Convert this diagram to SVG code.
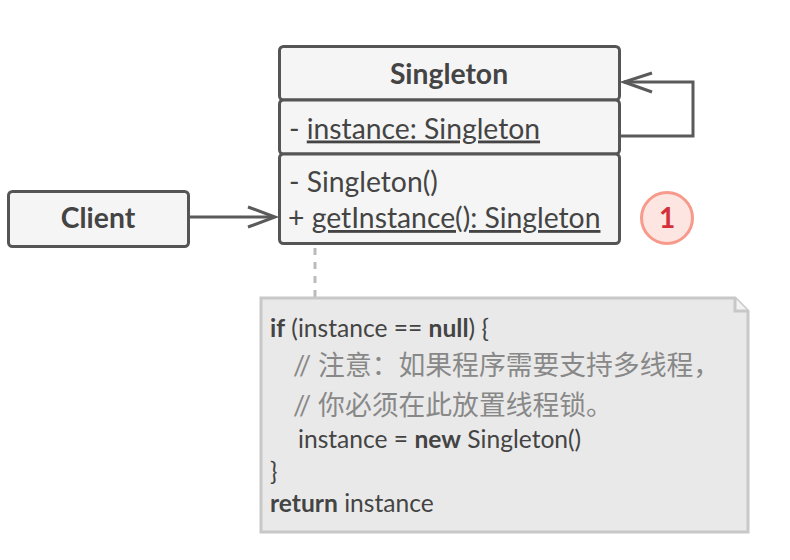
<svg xmlns="http://www.w3.org/2000/svg" width="790" height="560" viewBox="0 0 790 560">
<style>
.box{fill:#f5f5f5;stroke:#555;stroke-width:3}
.t{font-family:Lato,"Noto Sans CJK SC",sans-serif;fill:#444;font-size:28.3px}
.b{font-weight:bold}
.u{text-decoration:underline}
.n{font-family:Lato,"Noto Sans CJK SC",sans-serif;fill:#444;font-size:24.6px}
.c{font-family:Lato,"Noto Sans CJK SC",sans-serif;fill:#888;font-size:26.8px}
.conn{fill:none;stroke:#5a5a5a;stroke-width:3;stroke-linejoin:miter}
</style>
<rect width="790" height="560" fill="#fff"/>
<g id="connectors">
<path class="conn" d="M190 217H274"/>
<polyline class="conn" points="248,207 275,217 248,227"/>
<polyline class="conn" points="621,136 693,136 693,82 624,82"/>
<polyline class="conn" points="652,73 624,82 652,92"/>
<path d="M315 248V297" fill="none" stroke="#bbb" stroke-width="3" stroke-dasharray="7 7"/>
</g>
<g id="singleton">
<rect class="box" x="279.5" y="46.5" width="340" height="53.5" rx="4"/>
<rect class="box" x="279.5" y="100" width="340" height="54" rx="4"/>
<rect class="box" x="279.5" y="154" width="340" height="89.5" rx="4"/>
<text class="t b" x="449" y="84" text-anchor="middle">Singleton</text>
<text class="t" x="289" y="138.5">- <tspan class="u">instance: Singleton</tspan></text>
<text class="t" x="289" y="192">- Singleton()</text>
<text class="t" x="288" y="228">+ <tspan class="u">getInstance(): Singleton</tspan></text>
</g>
<g id="client">
<rect class="box" x="8.5" y="191.5" width="180" height="55" rx="4"/>
<text class="t b" x="98" y="227.5" text-anchor="middle">Client</text>
</g>
<g id="badge">
<circle cx="667" cy="218" r="25.5" fill="#fde6e1" stroke="#f7998b" stroke-width="3"/>
<text x="667" y="228" text-anchor="middle" font-family="Lato,sans-serif" font-weight="bold" font-size="28" fill="#d3303c">1</text>
</g>
<g id="note">
<path d="M261 298H735L748 311V532H261Z" fill="#e9e9e9" stroke="#c8c8c8" stroke-width="3"/>
<path d="M735 298V311H748" fill="#f2f2f2" stroke="#c8c8c8" stroke-width="3"/>
<text class="n" x="270" y="337"><tspan class="b">if</tspan> (instance == <tspan class="b">null</tspan>) {</text>
<text class="c" x="293" y="375">// 注意：如果程序需要支持多线程，</text>
<text class="c" x="293" y="415">// 你必须在此放置线程锁。</text>
<text class="n" x="298" y="448">instance = <tspan class="b">new</tspan> Singleton()</text>
<text class="n" x="270" y="480">}</text>
<text class="n" x="270" y="512"><tspan class="b">return</tspan> instance</text>
</g>
</svg>
